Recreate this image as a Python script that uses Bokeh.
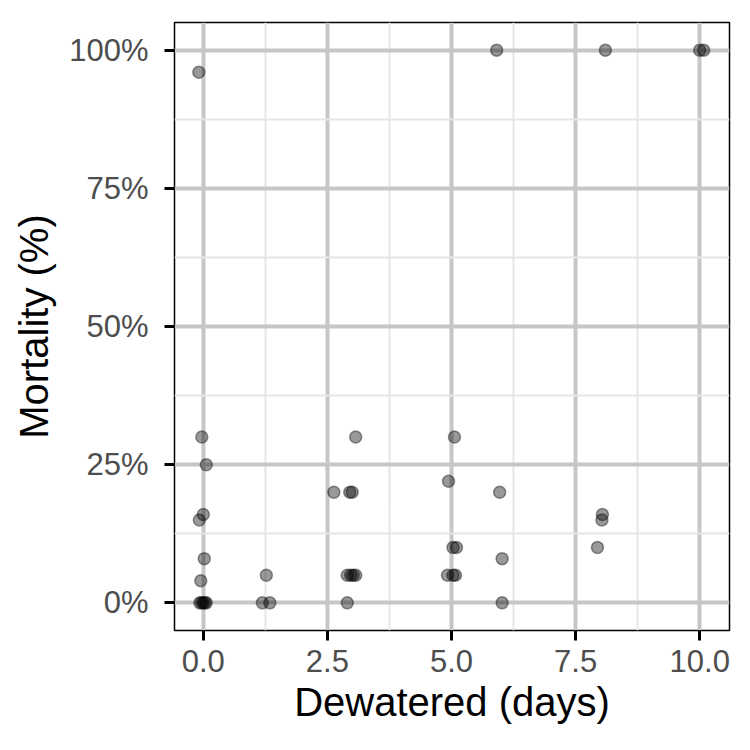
from bokeh.plotting import figure
from bokeh.models import FixedTicker, Range1d, PrintfTickFormatter, ColumnDataSource
from bokeh.embed import file_html
from bokeh.resources import INLINE

# Data (dewatered days, mortality %)
dewatered = [-0.09, -0.03, 0.06, 0.0, -0.08, 0.02, -0.05,
             -0.07, -0.03, 0.0, 0.03, 0.06,
             1.19, 1.34, 1.27,
             2.63, 2.95, 3.0, 3.07, 2.90,
             2.90, 2.97, 3.02, 3.07,
             4.92, 5.03, 5.08, 5.03, 5.10,
             4.94, 5.06, 5.97, 6.02, 6.02,
             8.04, 8.03, 7.94,
             5.91, 8.10, 10.0, 10.08]
mortality = [96, 30, 25, 16, 15, 8, 4,
             0, 0, 0, 0, 0,
             0, 0, 5,
             20, 20, 20, 30, 0,
             5, 5, 5, 5,
             5, 5, 5, 10, 10,
             22, 30, 20, 8, 0,
             16, 15, 10,
             100, 100, 100, 100]

x_ticks = [0, 2.5, 5.0, 7.5, 10.0]
x_minor = [1.25, 3.75, 6.25, 8.75]
y_ticks = [0, 25, 50, 75, 100]
y_minor = [12.5, 37.5, 62.5, 87.5]

FONT = "Liberation Sans"

p = figure(width=740, height=740,
           x_range=Range1d(-0.58, 10.6), y_range=Range1d(-5, 105),
           output_backend="svg", toolbar_location=None,
           min_border_left=174, min_border_right=11,
           min_border_top=22, min_border_bottom=110,
           x_axis_label="Dewatered (days)", y_axis_label="Mortality (%)")

p.background_fill_color = "white"
p.border_fill_color = "white"
p.outline_line_color = "black"
p.outline_line_width = 1.5

p.xaxis.ticker = FixedTicker(ticks=x_ticks, minor_ticks=x_minor)
p.yaxis.ticker = FixedTicker(ticks=y_ticks, minor_ticks=y_minor)
p.xaxis.formatter = PrintfTickFormatter(format="%.1f")
p.yaxis.formatter = PrintfTickFormatter(format="%d%%")

for ax in (p.xaxis, p.yaxis):
    ax.axis_line_color = None
    ax.major_tick_line_color = "black"
    ax.major_tick_line_width = 3
    ax.major_tick_out = 10
    ax.major_tick_in = 0
    ax.minor_tick_line_color = None
    ax.major_label_text_font = FONT
    ax.major_label_text_font_size = "31px"
    ax.major_label_text_color = "#4d4d4d"
    ax.axis_label_text_font = FONT
    ax.axis_label_text_font_size = "40px"
    ax.axis_label_text_font_style = "normal"
    ax.axis_label_text_color = "black"

p.xaxis.major_label_standoff = 9
p.yaxis.major_label_standoff = 16
p.xaxis.axis_label_standoff = 5
p.yaxis.axis_label_standoff = 10

for g in (p.xgrid, p.ygrid):
    g.grid_line_color = "#c6c6c6"
    g.grid_line_width = 4
    g.minor_grid_line_color = "#e6e6e6"
    g.minor_grid_line_width = 2

src = ColumnDataSource(dict(x=dewatered, y=mortality))
p.scatter("x", "y", source=src, size=12, fill_color="black", fill_alpha=0.4,
          line_color="black", line_alpha=0.4, line_width=1.5)

open("out.html", "w").write(file_html(p, INLINE))
